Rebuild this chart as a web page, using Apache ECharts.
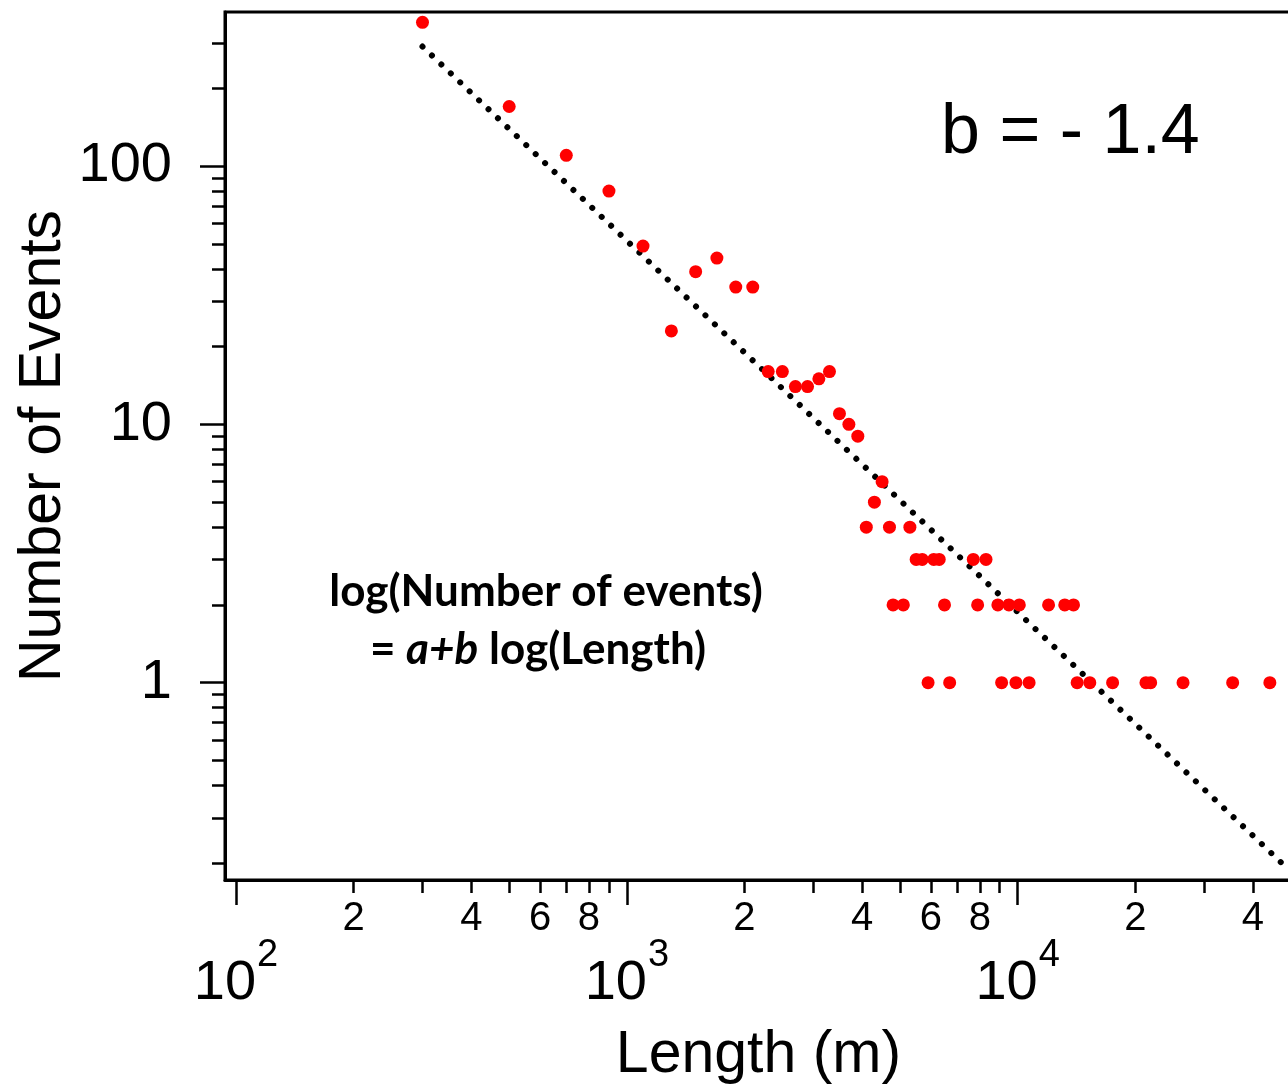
<!DOCTYPE html>
<html>
<head>
<meta charset="utf-8">
<script src="https://cdn.jsdelivr.net/npm/echarts@6/dist/echarts.min.js"></script>
<style>
  html, body { margin: 0; padding: 0; background: #fff; }
  #main { width: 1288px; height: 1086px; }
</style>
</head>
<body>
<div id="main"></div>
<script>
// length of each event (m) and how many events have it
var lengthM = [300, 500, 700, 900, 1100, 1300, 1500, 1700, 1900, 2100,
  2300, 2500, 2700, 2900, 3100, 3300, 3500, 3700, 3900, 4100,
  4300, 4500, 4700, 4800, 5100, 5300, 5500, 5700, 5900, 6100,
  6300, 6500, 6700, 7700, 7900, 8300, 8900, 9100, 9500, 9900,
  10100, 10700, 12000, 13200, 13900, 14200, 15300, 17500, 21300, 21900,
  26500, 35500, 44200];
var eventCount = [360, 170, 110, 80, 49, 23, 39, 44, 34, 34,
  16, 16, 14, 14, 15, 16, 11, 10, 9, 4,
  5, 6, 4, 2, 2, 4, 3, 3, 1, 3,
  3, 2, 1, 3, 2, 3, 2, 1, 2, 1,
  2, 1, 2, 2, 2, 1, 1, 1, 1, 1,
  1, 1, 1];

// fitted power law, end points
var fitLength = [300, 49200];
var fitCount = [290, 0.19];

// axis ranges and ticks
var xMin = 93.7, xMax = 50360;
var yMin = 0.1723, yMax = 394.6;
var xMajorTicks = [100, 1000, 10000];
var xMinorTicks = [200, 300, 400, 500, 600, 700, 800, 900,
  2000, 3000, 4000, 5000, 6000, 7000, 8000, 9000,
  20000, 30000, 40000, 50000];
var xMinorLabels = [200, 400, 600, 800, 2000, 4000, 6000, 8000, 20000, 40000];
var yMajorTicks = [1, 10, 100];
var yMinorTicks = [0.2, 0.3, 0.4, 0.5, 0.6, 0.7, 0.8, 0.9,
  2, 3, 4, 5, 6, 7, 8, 9, 20, 30, 40, 50, 60, 70, 80, 90, 200, 300];

var FONT = 'Liberation Sans, Arial, sans-serif';
var lg = function (v) { return Math.log10(v); };

var points = lengthM.map(function (l, i) { return [l, eventCount[i]]; });
var fitLine = fitLength.map(function (l, i) { return [l, fitCount[i]]; });

var hidden = { show: false };
var noZero = { show: false, onZero: false };

var chart = echarts.init(document.getElementById('main'));
chart.setOption({
  animation: false,
  backgroundColor: '#fff',
  grid: {
    left: 225, top: 12, right: -4, bottom: 206,
    containLabel: false, outerBoundsMode: 'none',
    show: true, borderColor: '#000', borderWidth: 3
  },
  xAxis: [
    {   // data axis
      type: 'log', logBase: 10, min: xMin, max: xMax, position: 'bottom',
      axisLine: { show: true, onZero: false, lineStyle: { color: '#000', width: 3 } },
      axisTick: hidden, axisLabel: hidden, splitLine: hidden,
      name: 'Length (m)', nameLocation: 'middle', nameGap: 146,
      nameTextStyle: { fontFamily: FONT, fontSize: 59, color: '#000' }
    },
    {   // decades
      type: 'value', min: lg(xMin), max: lg(xMax), position: 'bottom',
      axisLine: noZero, splitLine: hidden,
      axisTick: { show: true, inside: false, length: 25, customValues: xMajorTicks.map(lg),
        lineStyle: { color: '#000', width: 2.5 } },
      axisLabel: {
        show: true, margin: 57, customValues: xMajorTicks.map(lg),
        formatter: function (v) { return '{b|10}{s|' + Math.round(v) + '}'; },
        rich: {
          b: { fontFamily: FONT, fontSize: 56, color: '#000', lineHeight: 56, verticalAlign: 'bottom' },
          s: { fontFamily: FONT, fontSize: 38, color: '#000', lineHeight: 75, verticalAlign: 'top',
            padding: [0, 0, 0, 1] }
        }
      }
    },
    {   // 2..9 inside each decade
      type: 'value', min: lg(xMin), max: lg(xMax), position: 'bottom',
      axisLine: noZero, splitLine: hidden,
      axisTick: { show: true, inside: false, length: 13, customValues: xMinorTicks.map(lg),
        lineStyle: { color: '#000', width: 2.5 } },
      axisLabel: {
        show: true, margin: 19, customValues: xMinorLabels.map(lg),
        fontFamily: FONT, fontSize: 40, color: '#000',
        formatter: function (v) { return String(Math.round(Math.pow(10, v - Math.floor(v + 1e-9)))); }
      }
    }
  ],
  yAxis: [
    {
      type: 'log', logBase: 10, min: yMin, max: yMax, position: 'left',
      axisLine: { show: true, onZero: false, lineStyle: { color: '#000', width: 3 } },
      axisTick: hidden, axisLabel: hidden, splitLine: hidden,
      name: 'Number of Events', nameLocation: 'middle', nameGap: 152,
      nameTextStyle: { fontFamily: FONT, fontSize: 59, color: '#000' }
    },
    {
      type: 'value', min: lg(yMin), max: lg(yMax), position: 'left',
      axisLine: noZero, splitLine: hidden,
      axisTick: { show: true, inside: false, length: 25, customValues: yMajorTicks.map(lg),
        lineStyle: { color: '#000', width: 2.5 } },
      axisLabel: {
        show: true, margin: 53, customValues: yMajorTicks.map(lg),
        fontFamily: FONT, fontSize: 56, color: '#000',
        formatter: function (v) { return String(Math.round(Math.pow(10, v))); }
      }
    },
    {
      type: 'value', min: lg(yMin), max: lg(yMax), position: 'left',
      axisLine: noZero, splitLine: hidden, axisLabel: hidden,
      axisTick: { show: true, inside: false, length: 13, customValues: yMinorTicks.map(lg),
        lineStyle: { color: '#000', width: 2.5 } }
    }
  ],
  series: [
    {
      type: 'line',
      xAxisIndex: 0, yAxisIndex: 0,
      data: fitLine,
      symbol: 'none',
      lineStyle: { color: '#000', width: 6, type: [0.01, 13], cap: 'round' },
      z: 2
    },
    {
      type: 'scatter',
      xAxisIndex: 0, yAxisIndex: 0,
      data: points,
      symbol: 'circle',
      symbolSize: 13,
      itemStyle: { color: '#ff0000', opacity: 1 },
      z: 3
    }
  ],
  graphic: [
    {
      type: 'text', x: 941, y: 134,
      style: { text: 'b = - 1.4', font: '70px ' + FONT, fill: '#000',
        textAlign: 'left', textVerticalAlign: 'middle' }
    },
    {
      type: 'text', x: 546, y: 592,
      style: { text: 'log(Number of events)', font: 'bold 44px Lato, sans-serif', fill: '#000',
        textAlign: 'center', textVerticalAlign: 'middle' }
    },
    {
      type: 'text', x: 538, y: 650,
      style: {
        text: '= {i|a+b} log(Length)', font: 'bold 44px Lato, sans-serif', fill: '#000',
        textAlign: 'center', textVerticalAlign: 'middle',
        rich: { i: { font: 'italic bold 44px Lato, sans-serif', fill: '#000' } }
      }
    }
  ]
});
</script>
</body>
</html>
